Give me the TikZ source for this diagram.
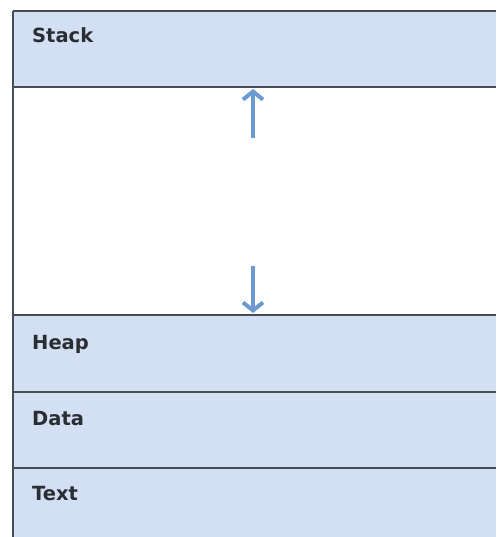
\documentclass[tikz,border=0pt]{standalone}
\usepackage{fontspec}
\setmainfont{DejaVu Sans}
\usetikzlibrary{arrows.meta}
\definecolor{segfill}{HTML}{D3DFF3}
\definecolor{segline}{HTML}{474D55}
\definecolor{arrowblue}{HTML}{6B9AD0}
\definecolor{labelcol}{HTML}{2A2E33}
\tikzset{
  segbox/.style={fill=segfill, draw=none},
  segedge/.style={draw=segline, line width=2pt},
  seglabel/.style={anchor=base west, inner sep=0pt, text=labelcol, font=\fontsize{19.5}{24}\selectfont\bfseries},
  growarrow/.style={draw=arrowblue, line width=4pt, -{Straight Barb[length=8pt,width=20pt]}}
}
\begin{document}
\begin{tikzpicture}[x=1pt,y=-1pt]
\useasboundingbox (0,0) rectangle (496,537);
% shaded segments
\fill[segbox] (13,11) rectangle (496,87);
\fill[segbox] (13,315) rectangle (496,392);
\fill[segbox] (13,392) rectangle (496,468);
\fill[segbox] (13,468) rectangle (496,537);
% boundary lines
\coordinate (tl) at (13,11);
\coordinate (bl) at (13,537);
\draw[segedge] (13,11) -- (496,11);
\draw[segedge] (13,87) -- (496,87);
\draw[segedge] (13,315) -- (496,315);
\draw[segedge] (13,392) -- (496,392);
\draw[segedge] (13,468) -- (496,468);
\draw[segedge] (tl) -- (bl);
% labels
\node[seglabel] (stack) at (32,43) {Stack};
\node[seglabel] (heap) at (32,349) {Heap};
\node[seglabel] (data) at (32,425) {Data};
\node[seglabel] (text) at (32,500) {Text};
% arrows
\coordinate (upstart) at (253,138);
\coordinate (upend) at (253,89);
\coordinate (downstart) at (253,266);
\coordinate (downend) at (253,313);
\draw[growarrow] (upstart) -- (upend);
\draw[growarrow] (downstart) -- (downend);
\end{tikzpicture}
\end{document}
